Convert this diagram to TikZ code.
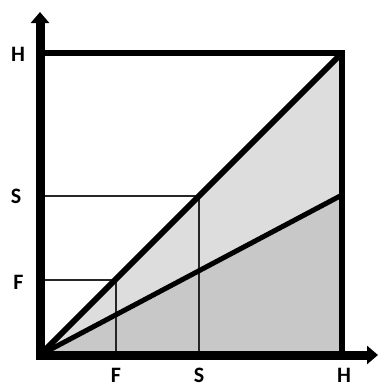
\documentclass[tikz,border=0pt]{standalone}
\usepackage{fontspec}
\setmainfont{Carlito}
\usetikzlibrary{arrows.meta}
\definecolor{lightfill}{RGB}{221,221,221}
\definecolor{darkfill}{RGB}{200,200,200}
\tikzset{
  lbl/.style={font=\bfseries\fontsize{22}{24}\selectfont, inner sep=0pt},
  thinline/.style={line width=1.2pt, draw=black!85},
  thickline/.style={line width=6pt, line cap=round},
  axis/.style={line width=9pt, -{Triangle[width=18pt,length=11pt]}},
}
\begin{document}
\begin{tikzpicture}[x=1pt,y=-1pt]
\useasboundingbox (0,0) rectangle (378,388);
\coordinate (O) at (40,355);
\coordinate (TR) at (342,53);
\coordinate (TL) at (40,53);
\coordinate (BR) at (342,355);
\coordinate (LR) at (342,195);
\coordinate (Sd) at (199,196);
\coordinate (Fd) at (116,280);
\coordinate (SyL) at (40,196);
\coordinate (FyL) at (40,280);
\coordinate (SxB) at (199,355);
\coordinate (FxB) at (116,355);
\coordinate (Ytop) at (40,12);
\coordinate (Ybot) at (40,359.5);
\coordinate (Xend) at (378,355);
\coordinate (Xbeg) at (35.5,355);
% fills
\fill[lightfill] (O) -- (TR) -- (LR) -- cycle;
\fill[darkfill] (O) -- (LR) -- (BR) -- cycle;
% thin guide lines
\draw[thinline] (SyL) -- (Sd) -- (SxB);
\draw[thinline] (FyL) -- (Fd) -- (FxB);
% square
\draw[line width=5.5pt, line join=miter] (TL) -- (TR) -- (BR);
% lines
\draw[thickline] (O) -- (TR);
\draw[line width=5pt, line cap=round] (O) -- (LR);
% axes
\draw[axis] (Ybot) -- (Ytop);
\draw[axis] (Xbeg) -- (Xend);
% labels
\node[lbl] (lH) at (18,54) {H};
\node[lbl] (lS) at (16,196) {S};
\node[lbl] (lF) at (18.5,282) {F};
\node[lbl] (bF) at (116,375) {F};
\node[lbl] (bS) at (199,375) {S};
\node[lbl] (bH) at (344,375) {H};
\end{tikzpicture}
\end{document}
